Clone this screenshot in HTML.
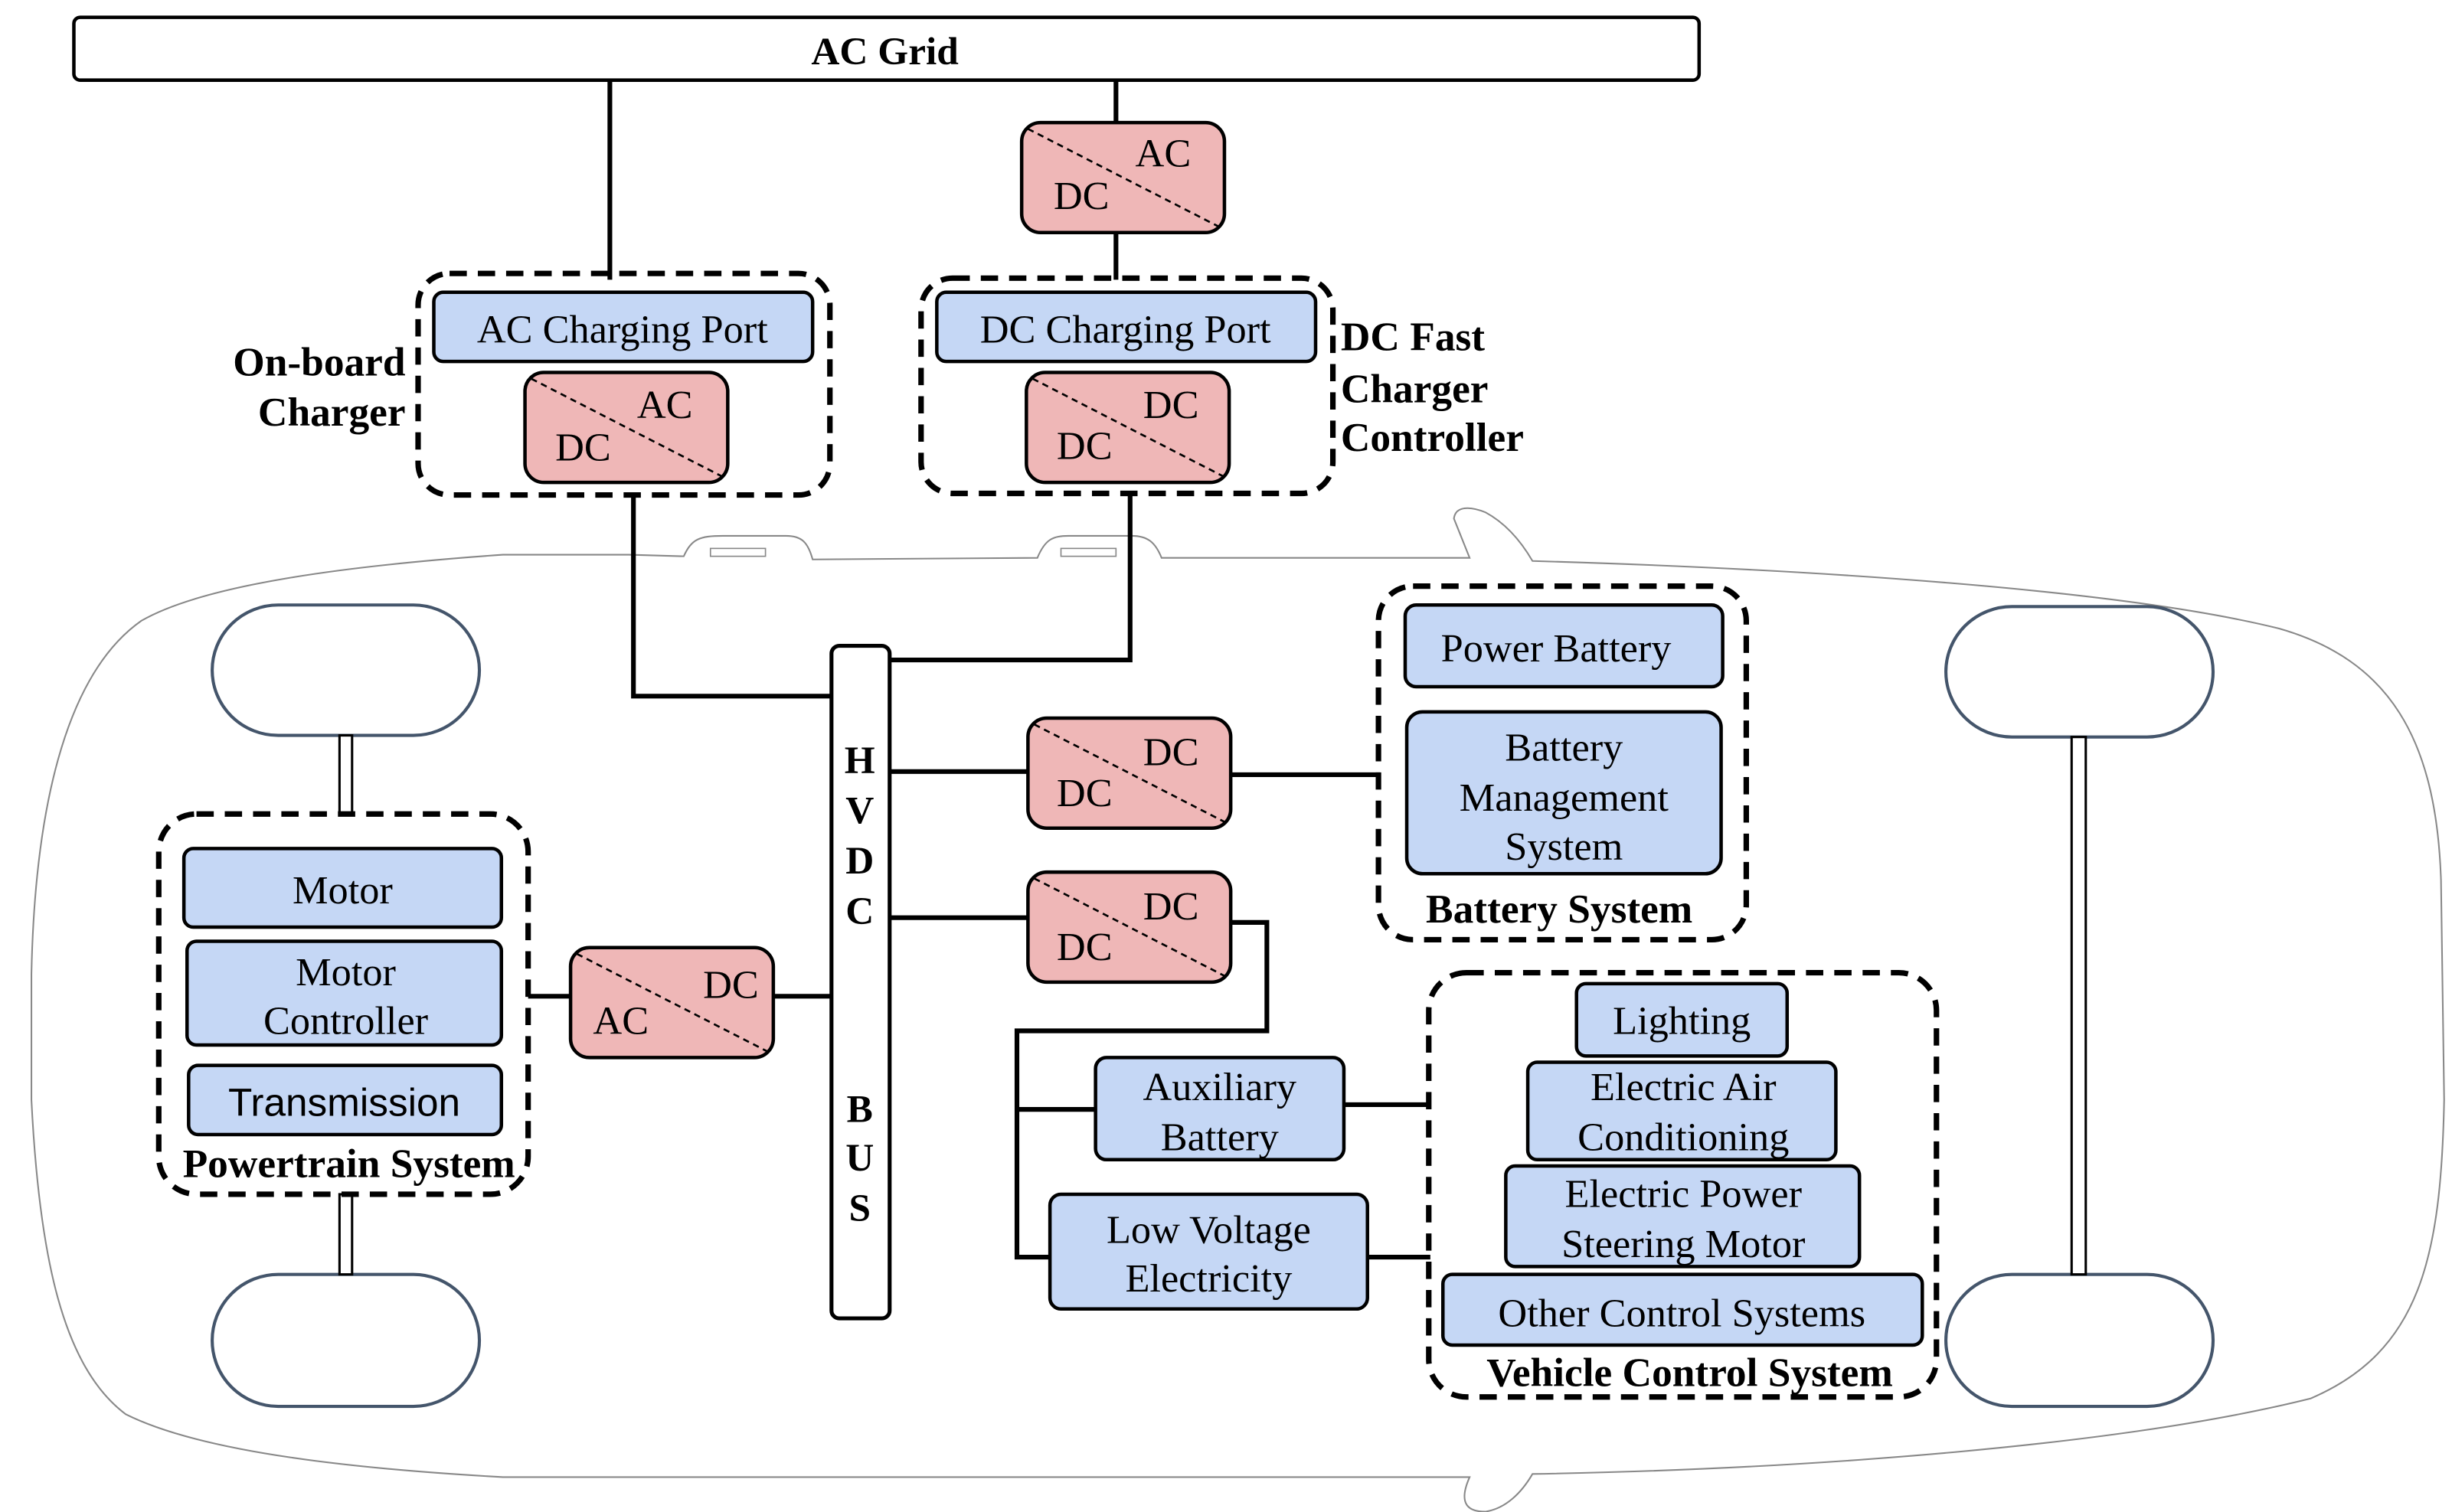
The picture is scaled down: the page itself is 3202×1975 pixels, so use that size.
<!DOCTYPE html>
<html><head><meta charset="utf-8"><style>
html,body{margin:0;padding:0;background:#fff}
svg{display:block}
text{font-family:"Liberation Serif",serif;fill:#000}
.b{font-weight:bold}
.blue{fill:#c5d7f5;stroke:#000;stroke-width:2.2}
.pink{fill:#efb7b7;stroke:#000;stroke-width:2.2}
.dash{fill:none;stroke:#000;stroke-width:3.5;stroke-dasharray:11 7}
.ln{fill:none;stroke:#000;stroke-width:3}
.diag{stroke:#000;stroke-width:1.3;stroke-dasharray:4 3}
.wh{fill:#fff;stroke:#44556b;stroke-width:2}
</style></head><body>
<svg width="3202" height="1975" viewBox="0 0 1560 962.2" xmlns="http://www.w3.org/2000/svg">
<path d="M320,353 L400,353 L435,354 C440,343 445,341 460,341 L500,341 C510,341 514,345 517,356 L660,355 C665,343 670,341 680,341 L720,341 C730,341 735,345 739,355 L935,355 L925,330 C926,322 935,322 945,326 C958,333 968,345 975,357 C1150,362 1350,375 1450,400 C1520,420 1550,470 1553,560 L1555,700 C1553,800 1540,860 1470,890 C1350,920 1150,935 975,938 C968,950 958,960 945,962 C935,962 927,958 935,940 L320,940 C230,935 130,925 80,900 C40,870 25,800 20,700 L20,620 C22,520 40,430 90,395 C130,372 220,360 320,353 Z" fill="none" stroke="#888" stroke-width="1"/>
<rect x="452" y="349" width="35" height="5" fill="none" stroke="#888" stroke-width="0.8"/>
<rect x="675" y="349" width="35" height="5" fill="none" stroke="#888" stroke-width="0.8"/>
<rect class="wh" x="135" y="385" width="170" height="83" rx="42"/>
<rect class="wh" x="135" y="811" width="170" height="84" rx="42"/>
<rect class="wh" x="1238" y="386" width="170" height="83" rx="42"/>
<rect class="wh" x="1238" y="811" width="170" height="84" rx="42"/>
<rect x="216" y="468" width="8" height="50" fill="#fff" stroke="#000" stroke-width="1.5"/>
<rect x="216" y="760" width="8" height="51" fill="#fff" stroke="#000" stroke-width="1.5"/>
<rect x="1318" y="469" width="9" height="342" fill="#fff" stroke="#000" stroke-width="1.5"/>
<rect x="47" y="11" width="1034" height="40" rx="4" fill="#fff" stroke="#000" stroke-width="2.2"/>
<text x="563" y="41" font-size="25" class="b" text-anchor="middle">AC Grid</text>
<path class="ln" d="M388,51 V178 M710,51 V78 M710,148 V178"/>
<path class="ln" d="M403,315 V443 H529 M719,314 V420 H566"/>
<path class="ln" d="M566,491 H654 M783,493 H878 M566,584 H654 M783,587 H806 V656 H647 V800 H668 M647,706 H697 M855,703 H910 M870,800 H910 M336,634 H363 M492,634 H529"/>
<g font-size="25.5">
<rect class="pink" x="650" y="78" width="129" height="70" rx="12"/><line class="diag" x1="654" y1="82" x2="775" y2="144"/>
<text x="740" y="106" text-anchor="middle">AC</text><text x="688" y="133" text-anchor="middle">DC</text>
<rect class="pink" x="334" y="237" width="129" height="70" rx="12"/><line class="diag" x1="338" y1="241" x2="459" y2="303"/>
<text x="423" y="266" text-anchor="middle">AC</text><text x="371" y="293" text-anchor="middle">DC</text>
<rect class="pink" x="653" y="237" width="129" height="70" rx="12"/><line class="diag" x1="657" y1="241" x2="778" y2="303"/>
<text x="745" y="266" text-anchor="middle">DC</text><text x="690" y="292" text-anchor="middle">DC</text>
<rect class="pink" x="654" y="457" width="129" height="70" rx="12"/><line class="diag" x1="658" y1="461" x2="779" y2="523"/>
<text x="745" y="487" text-anchor="middle">DC</text><text x="690" y="513" text-anchor="middle">DC</text>
<rect class="pink" x="654" y="555" width="129" height="70" rx="12"/><line class="diag" x1="658" y1="559" x2="779" y2="621"/>
<text x="745" y="585" text-anchor="middle">DC</text><text x="690" y="611" text-anchor="middle">DC</text>
<rect class="pink" x="363" y="603" width="129" height="70" rx="12"/><line class="diag" x1="367" y1="607" x2="488" y2="669"/>
<text x="465" y="635" text-anchor="middle">DC</text><text x="395" y="658" text-anchor="middle">AC</text>
</g>
<rect class="dash" x="266" y="174" width="262" height="141" rx="20"/>
<rect class="dash" x="586" y="177" width="262" height="137" rx="20"/>
<rect class="dash" x="877" y="373" width="234" height="225" rx="22"/>
<rect class="dash" x="909" y="619" width="323" height="270" rx="24"/>
<rect class="dash" x="101" y="518" width="235" height="242" rx="24"/>
<g font-size="25.5" text-anchor="middle">
<rect class="blue" x="276" y="186" width="241" height="44" rx="6"/><text x="396" y="218">AC Charging Port</text>
<rect class="blue" x="596" y="186" width="241" height="44" rx="6"/><text x="716" y="218">DC Charging Port</text>
<rect class="blue" x="894" y="385" width="202" height="52" rx="7"/><text x="990" y="421">Power Battery</text>
<rect class="blue" x="895" y="453" width="200" height="103" rx="10"/><text x="995" y="484">Battery</text><text x="995" y="516">Management</text><text x="995" y="547">System</text>
<rect class="blue" x="697" y="673" width="158" height="65" rx="7"/><text x="776" y="700">Auxiliary</text><text x="776" y="732">Battery</text>
<rect class="blue" x="668" y="760" width="202" height="73" rx="7"/><text x="769" y="791">Low Voltage</text><text x="769" y="822">Electricity</text>
<rect class="blue" x="1003" y="626" width="134" height="46" rx="6"/><text x="1070" y="658">Lighting</text>
<rect class="blue" x="972" y="676" width="196" height="62" rx="6"/><text x="1071" y="700">Electric Air</text><text x="1071" y="732">Conditioning</text>
<rect class="blue" x="958" y="742" width="225" height="64" rx="6"/><text x="1071" y="768">Electric Power</text><text x="1071" y="800">Steering Motor</text>
<rect class="blue" x="918" y="811" width="305" height="45" rx="6"/><text x="1070" y="844">Other Control Systems</text>
<rect class="blue" x="117" y="540" width="202" height="50" rx="6"/><text x="218" y="575">Motor</text>
<rect class="blue" x="119" y="599" width="200" height="66" rx="6"/><text x="220" y="627">Motor</text><text x="220" y="658">Controller</text>
<rect class="blue" x="120" y="678" width="199" height="44" rx="6"/><text x="219" y="710" style="font-family:'Liberation Sans',sans-serif" font-size="25">Transmission</text>
</g>
<g font-size="26" class="b">
<text x="258" y="239" text-anchor="end" class="b">On-board</text>
<text x="258" y="271" text-anchor="end" class="b">Charger</text>
<text x="853" y="223" class="b">DC Fast</text>
<text x="853" y="256" class="b">Charger</text>
<text x="853" y="287" class="b">Controller</text>
<text x="992" y="587" text-anchor="middle" class="b">Battery System</text>
<text x="1075" y="882" text-anchor="middle" class="b">Vehicle Control System</text>
<text x="222" y="749" text-anchor="middle" class="b">Powertrain System</text>
</g>
<rect x="529" y="411" width="37" height="428" rx="5" fill="#fff" stroke="#000" stroke-width="2.5"/>
<g font-size="25" class="b" text-anchor="middle">
<text x="547" y="492" class="b">H</text><text x="547" y="524" class="b">V</text><text x="547" y="556" class="b">D</text><text x="547" y="588" class="b">C</text>
<text x="547" y="714" class="b">B</text><text x="547" y="745" class="b">U</text><text x="547" y="777" class="b">S</text>
</g>
</svg>
</body></html>
